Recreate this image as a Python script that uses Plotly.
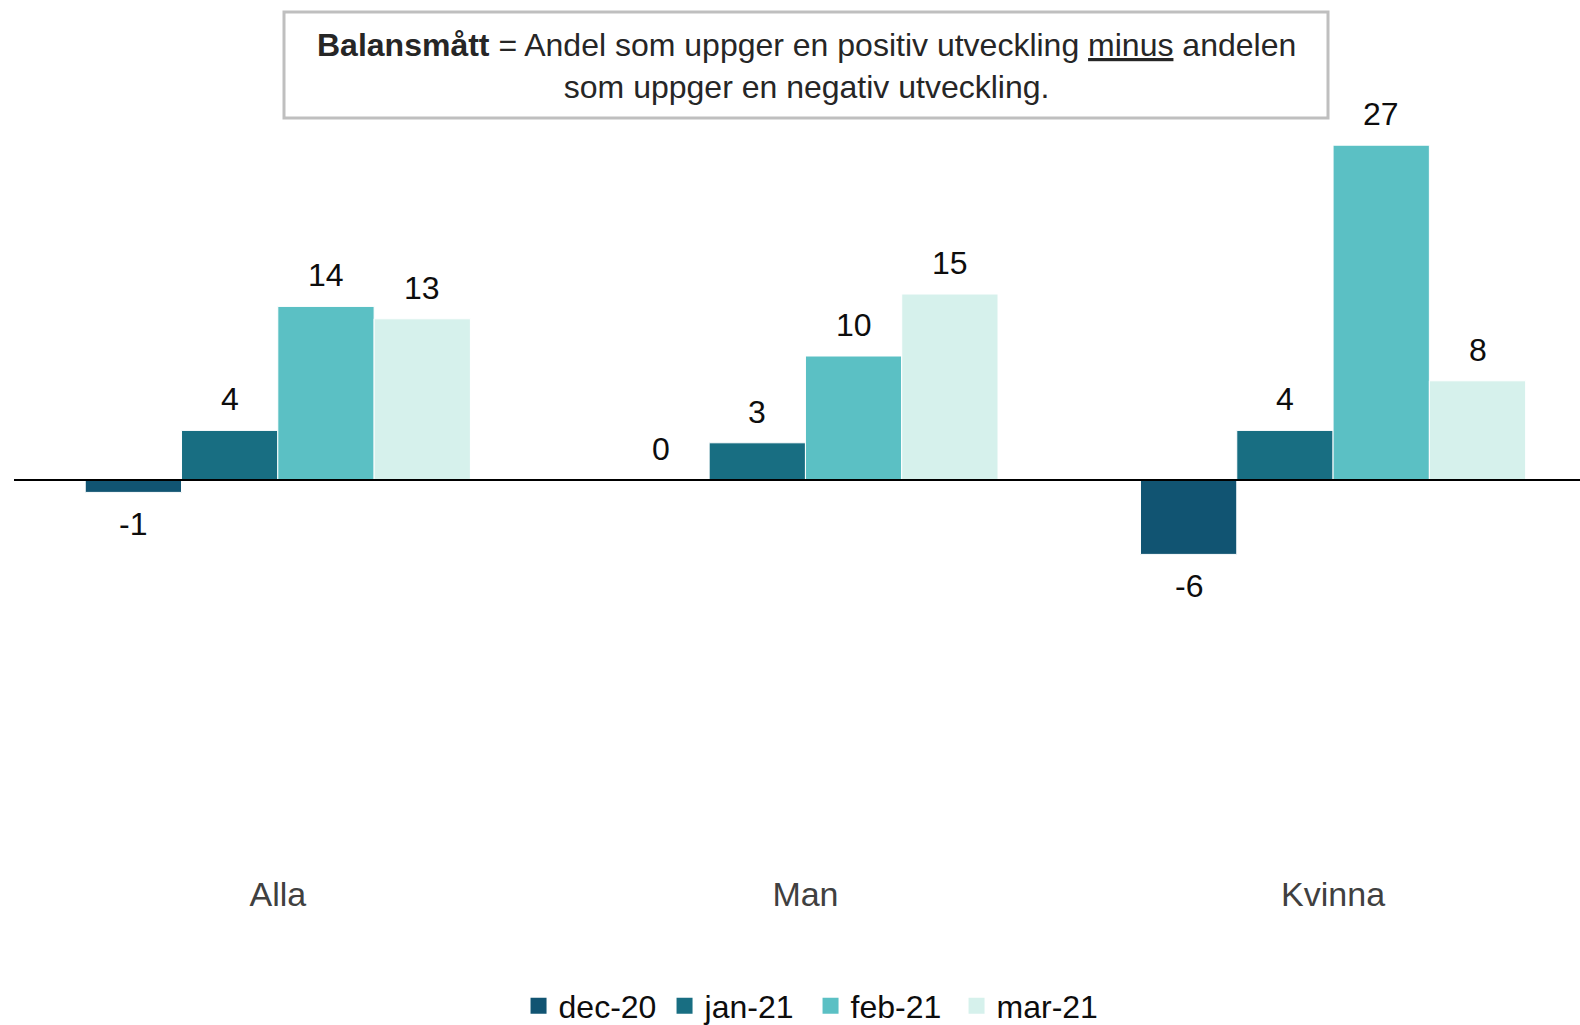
import plotly.graph_objects as go

categories = ["Alla", "Man", "Kvinna"]
series_names = ["dec-20", "jan-21", "feb-21", "mar-21"]
dec20 = [-1, 0, -6]
jan21 = [4, 3, 4]
feb21 = [14, 10, 27]
mar21 = [13, 15, 8]
series_values = [dec20, jan21, feb21, mar21]
colors = ["#115472", "#186E82", "#5BC0C4", "#D6F1EC"]

FONT = "Liberation Sans, Arial, sans-serif"

fig = go.Figure()
for name, vals, col in zip(series_names, series_values, colors):
    fig.add_trace(go.Bar(
        name=name, x=categories, y=vals, showlegend=False,
        marker=dict(color=col, line=dict(color="white", width=1)),
    ))
# legend entries with larger square swatches
for name, col in zip(series_names, colors):
    fig.add_trace(go.Scatter(
        name=name, x=[None], y=[None], mode="markers",
        marker=dict(symbol="square", size=16, color=col),
    ))

bargap = 0.27
nser = len(series_names)
bw = (1 - bargap) / nser
annotations = []
for i, vals in enumerate(series_values):
    for j, v in enumerate(vals):
        off = (i - (nser - 1) / 2) * bw
        annotations.append(dict(
            x=j + off, y=v, xref="x", yref="y", text=str(v), showarrow=False,
            yshift=31 if v >= 0 else -32,
            font=dict(family=FONT, size=32, color="#0D0D0D"),
        ))

annotations.append(dict(
    xref="paper", yref="paper", x=(806 - 14) / 1566, y=(852 - 66) / 744,
    xanchor="center", yanchor="middle", showarrow=False, align="center",
    text="<b>Balansmått</b> = Andel som uppger en positiv utveckling <u>minus</u> andelen<br>som uppger en negativ utveckling.",
    font=dict(family=FONT, size=32, color="#262626"),
))

fig.update_layout(
    width=1580, height=1025,
    paper_bgcolor="white", plot_bgcolor="white",
    margin=dict(l=14, r=0, t=108, b=173),
    barmode="group", bargap=bargap, bargroupgap=0,
    font=dict(family=FONT, size=32, color="#404040"),
    xaxis=dict(range=[-0.5, 2.468], showline=False, showgrid=False, ticks="",
               ticklabelstandoff=19, tickfont=dict(size=34, color="#404040")),
    yaxis=dict(range=[-30, 30], showgrid=False, showticklabels=False, ticks="",
               zeroline=False, showline=False),
    legend=dict(orientation="h", xref="container", yref="container",
                x=0.513, y=1 - 1006 / 1025, xanchor="center", yanchor="middle",
                font=dict(size=32, color="#0D0D0D"), itemsizing="trace",
                tracegroupgap=0, entrywidth=101, entrywidthmode="pixels"),
    annotations=annotations,
    shapes=[
        dict(type="line", xref="paper", yref="y", x0=0, x1=1, y0=0, y1=0,
             line=dict(color="black", width=2), layer="above"),
        dict(type="rect", xref="paper", yref="paper",
             x0=(284 - 14) / 1566, x1=(1328 - 14) / 1566,
             y0=(852 - 118) / 744, y1=(852 - 12) / 744,
             line=dict(color="#BFBFBF", width=3), fillcolor="white", layer="above"),
    ],
)

fig.write_html("out.html", config={"displayModeBar": False},
               post_script="document.body.style.margin='0';document.body.style.overflow='hidden';")
